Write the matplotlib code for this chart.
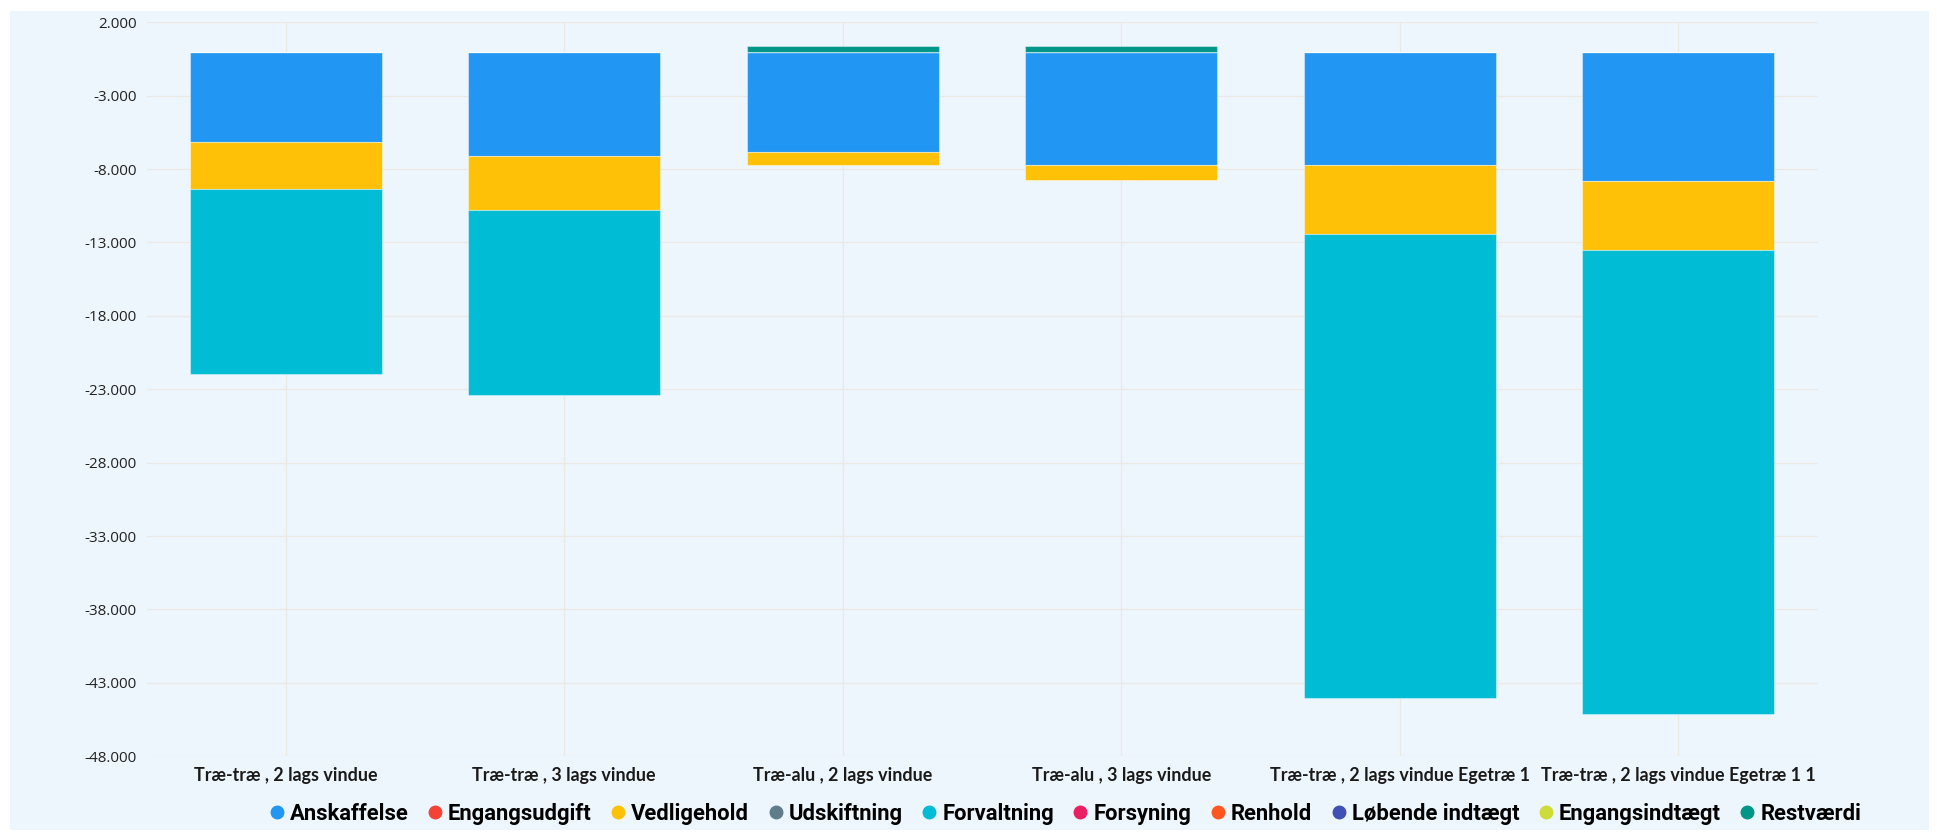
import numpy as np
import matplotlib.pyplot as plt
from matplotlib.lines import Line2D
from matplotlib.patches import Rectangle
from matplotlib.ticker import FuncFormatter

categories = ["Træ-træ , 2 lags vindue", "Træ-træ , 3 lags vindue",
              "Træ-alu , 2 lags vindue", "Træ-alu , 3 lags vindue",
              "Træ-træ , 2 lags vindue Egetræ 1", "Træ-træ , 2 lags vindue Egetræ 1 1"]

series_names = ["Anskaffelse", "Engangsudgift", "Vedligehold", "Udskiftning", "Forvaltning",
                "Forsyning", "Renhold", "Løbende indtægt", "Engangsindtægt", "Restværdi"]
series_colors = ["#2196F3", "#F44336", "#FFC107", "#607D8B", "#00BCD4",
                 "#E91E63", "#FF5722", "#3F51B5", "#CDDC39", "#009688"]

anskaffelse = [-6130, -7085, -6830, -7720, -7720, -8830]
engangsudgift = [0, 0, 0, 0, 0, 0]
vedligehold = [-3200, -3680, -890, -1020, -4680, -4680]
udskiftning = [0, 0, 0, 0, 0, 0]
forvaltning = [-12620, -12640, 0, 0, -31630, -31630]
forsyning = [0, 0, 0, 0, 0, 0]
renhold = [0, 0, 0, 0, 0, 0]
lobende_indtaegt = [0, 0, 0, 0, 0, 0]
engangsindtaegt = [0, 0, 0, 0, 0, 0]
restvaerdi = [0, 0, 370, 390, 0, 0]

series = [anskaffelse, engangsudgift, vedligehold, udskiftning, forvaltning,
          forsyning, renhold, lobende_indtaegt, engangsindtaegt, restvaerdi]

yticks = np.arange(2000, -48001, -5000)

W, H = 1937, 838
fig = plt.figure(figsize=(W / 100, H / 100), dpi=100, facecolor="white")
fig.patches.append(Rectangle((10 / W, 8 / H), 1919 / W, 819 / H, transform=fig.transFigure,
                             facecolor="#eef6fd", edgecolor="none", zorder=-10))

ax = fig.add_axes([146.5 / W, (H - 756.3) / H, 1671 / W, 734 / H])
ax.set_facecolor("none")

x = np.arange(len(categories))
pos = np.zeros(len(categories))
neg = np.zeros(len(categories))
for name, vals, col in zip(series_names, series, series_colors):
    v = np.array(vals, dtype=float)
    bottom = np.where(v >= 0, pos, neg)
    ax.bar(x, v, 0.688, bottom=bottom, color=col, edgecolor=(1, 1, 1, 0.4),
           linewidth=0.8, zorder=3)
    pos = pos + np.where(v > 0, v, 0)
    neg = neg + np.where(v < 0, v, 0)

ax.set_xlim(-0.5, len(categories) - 0.5)
ax.set_ylim(-48000, 2000)
ax.set_yticks(yticks)
ax.yaxis.set_major_formatter(FuncFormatter(lambda v, p: f"{v:,.0f}".replace(",", ".")))
ax.set_xticks(x)
ax.set_xticklabels(categories)
ax.tick_params(length=0)
ax.tick_params(axis="y", pad=7, labelsize=11, labelcolor="#222222", labelfontfamily="Open Sans")
ax.tick_params(axis="x", pad=8, labelsize=12.9, labelcolor="#1a1a1a", labelfontfamily="Lato")
for lab in ax.get_xticklabels():
    lab.set_fontweight("bold")
for s in ax.spines.values():
    s.set_visible(False)
ax.grid(True, color="#ebe9e6", linewidth=1, zorder=0)
ax.set_axisbelow(True)

handles = [Line2D([], [], marker="o", linestyle="none", markersize=9,
                  markerfacecolor=c, markeredgecolor=c) for c in series_colors]
fig.legend(handles, series_names, loc="center", bbox_to_anchor=(1064 / W, (H - 814) / H),
           ncol=10, frameon=False, handletextpad=0.15, columnspacing=0.75, handlelength=0.9,
           prop={"family": "Roboto", "weight": "bold", "size": 15.8})

fig.savefig("out.png", dpi=100, facecolor="white")
